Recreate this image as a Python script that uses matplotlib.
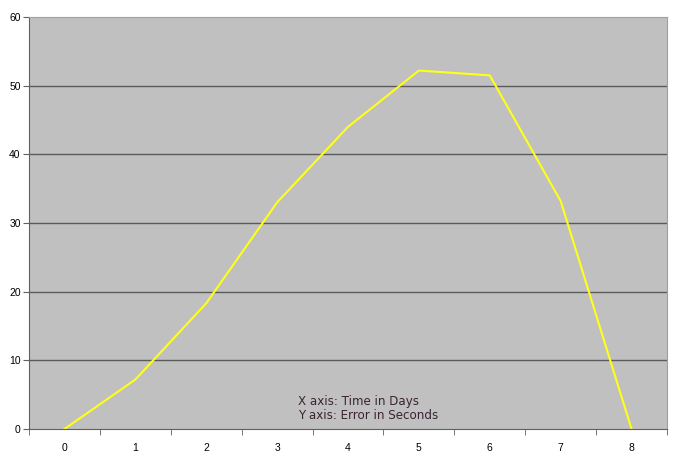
import numpy as np
import matplotlib
matplotlib.use('Agg')
import matplotlib.pyplot as plt
from matplotlib.ticker import FixedLocator

# data
days = [0, 1, 2, 3, 4, 5, 6, 7, 8]
error_sec = [0, 7.2, 18.3, 33.0, 44.0, 52.2, 51.5, 33.2, 0]
y_ticks = [0, 10, 20, 30, 40, 50, 60]

plt.rcParams['font.family'] = ['Liberation Sans', 'DejaVu Sans']

fig = plt.figure(figsize=(6.75, 4.61), dpi=100)
fig.patch.set_facecolor('white')
ax = fig.add_axes([29/675, 32/461, 638/675, 412/461])
ax.set_facecolor('#c0c0c0')

for v in y_ticks[1:-1]:
    ax.axhline(v, color='#5a5a5a', lw=1.0, zorder=1)

ax.plot(days, error_sec, color='#ffff1a', lw=1.5, zorder=3)

ax.set_xlim(-0.5, 8.5)
ax.set_ylim(0, 60)
ax.set_xticks(days)
ax.set_xticklabels([str(d) for d in days])
ax.xaxis.set_minor_locator(FixedLocator(np.arange(-0.5, 9.0, 1.0)))
ax.tick_params(axis='x', which='major', length=0, pad=10, labelsize=7.5)
ax.tick_params(axis='x', which='minor', length=4, direction='out', color='#606060')
ax.set_yticks(y_ticks)
ax.tick_params(axis='y', length=4, direction='out', color='#606060', pad=2, labelsize=7.5)

ax.spines['left'].set_color('#606060')
ax.spines['bottom'].set_color('#606060')
ax.spines['top'].set_color('#a0a0a0')
ax.spines['right'].set_color('#a0a0a0')

ax.text(0.421, 0.016, 'X axis: Time in Days\nY axis: Error in Seconds',
        transform=ax.transAxes, fontsize=8.6, color='#3a2333',
        family='DejaVu Sans', va='bottom', ha='left', linespacing=1.15)

fig.savefig('out.png', dpi=100)
